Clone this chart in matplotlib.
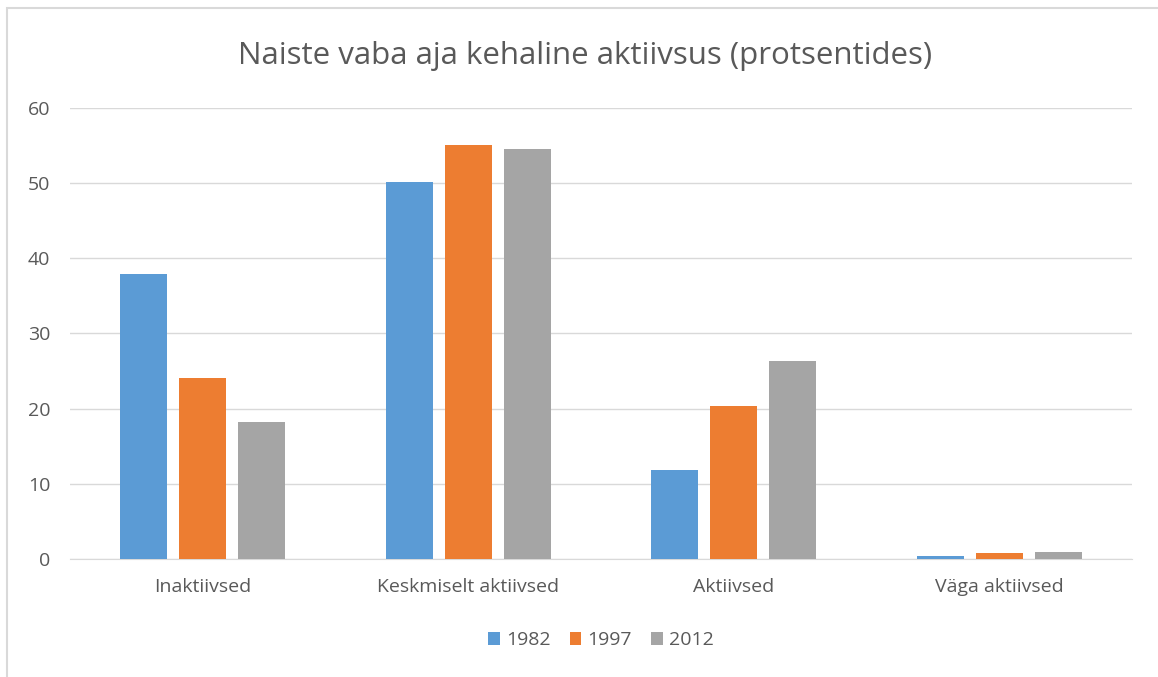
import matplotlib.pyplot as plt
import numpy as np
from matplotlib.patches import Rectangle

categories = ['Inaktiivsed', 'Keskmiselt aktiivsed', 'Aktiivsed', 'Väga aktiivsed']
years = ['1982', '1997', '2012']
v1982 = [37.9, 50.2, 11.8, 0.4]
v1997 = [24.1, 55.1, 20.4, 0.8]
v2012 = [18.2, 54.5, 26.3, 0.9]
colors = ['#5B9BD5', '#ED7D31', '#A5A5A5']

plt.rcParams['font.family'] = ['Open Sans', 'DejaVu Sans']
text_col = '#595959'

fig = plt.figure(figsize=(11.58, 6.77), dpi=100)
ax = fig.add_axes([0.0604, 0.1743, 0.9171, 0.6662])

x = np.arange(len(categories))
step = 0.222
width = 0.177
for i, (vals, yr) in enumerate(zip([v1982, v1997, v2012], years)):
    ax.bar(x + (i - 1) * step, vals, width, color=colors[i], label=yr, zorder=3)

ax.set_xlim(-0.5, len(categories) - 0.5)
ax.set_ylim(0, 60)
ax.set_yticks(range(0, 61, 10))
ax.set_xticks(x)
ax.set_xticklabels(categories)
ax.yaxis.grid(True, color='#D9D9D9', linewidth=1, zorder=0)
for s in ['top', 'right', 'left']:
    ax.spines[s].set_visible(False)
ax.spines['bottom'].set_color('#D9D9D9')
ax.tick_params(axis='both', length=0, colors=text_col, labelsize=14)
ax.tick_params(axis='x', pad=14)
ax.tick_params(axis='y', pad=14)

fig.text(0.505, 0.917, 'Naiste vaba aja kehaline aktiivsus (protsentides)',
         ha='center', va='center', fontsize=22.5, color=text_col)

leg = ax.legend(loc='center', bbox_to_anchor=(0.5, -0.18), ncol=3, frameon=False,
                fontsize=14, handlelength=0.6, handleheight=0.6, handletextpad=0.3,
                columnspacing=1.0)
for t in leg.get_texts():
    t.set_color(text_col)

fig.patches.append(Rectangle((7 / 1158, -0.1), 1.2, 1 - 8 / 677 + 0.1,
                             transform=fig.transFigure, fill=False,
                             edgecolor='#D9D9D9', linewidth=1.5))

fig.savefig('out.png', dpi=100)
